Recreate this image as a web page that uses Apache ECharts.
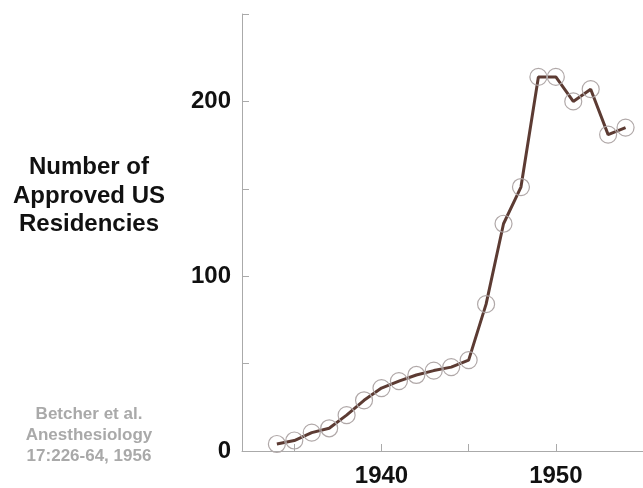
<!DOCTYPE html>
<html>
<head>
<meta charset="utf-8">
<script src="https://cdn.jsdelivr.net/npm/echarts@6/dist/echarts.min.js"></script>
<style>html,body{margin:0;padding:0;background:#fff;}#c{width:643px;height:488px;}</style>
</head>
<body>
<div id="c"></div>
<script>
var years = [1934,1935,1936,1937,1938,1939,1940,1941,1942,1943,1944,1945,1946,1947,1948,1949,1950,1951,1952,1953,1954];
var residencies = [4,6,10.5,13,20.5,29,36,40,43.5,46,48,52,84,130,151,214,214,200,207,181,185];
var xTickValues = [1935,1940,1945,1950,1955];
var xLabelValues = [1940,1950];
var yLabelValues = [0,100,200];
var titleLines = ['Number of','Approved US','Residencies'];
var citeLines = ['Betcher et al.','Anesthesiology','17:226-64, 1956'];

var chart = echarts.init(document.getElementById('c'));
var font = 'Arial, "Liberation Sans", sans-serif';
chart.setOption({
  animation: false,
  grid: {left: 242, top: 14, bottom: 36.5, right: -8, containLabel: false},
  xAxis: {
    type: 'value', min: 1932, max: 1955,
    splitLine: {show: false},
    axisLine: {lineStyle: {color: '#aaaaaa', width: 1}},
    axisTick: {inside: true, length: 7, lineStyle: {color: '#aaaaaa'}, customValues: xTickValues},
    axisLabel: {customValues: xLabelValues, formatter: function(v){ return String(v); }, color: '#111', fontSize: 24, fontWeight: 'bold', fontFamily: font, margin: 13}
  },
  yAxis: {
    type: 'value', min: 0, max: 250, interval: 50,
    splitLine: {show: false},
    axisLine: {show: true, lineStyle: {color: '#aaaaaa', width: 1}},
    axisTick: {show: true, inside: true, length: 7, lineStyle: {color: '#aaaaaa'}},
    axisLabel: {customValues: yLabelValues, formatter: function(v){ return String(v); }, color: '#111', fontSize: 24, fontWeight: 'bold', fontFamily: font, margin: 11}
  },
  graphic: [
    {type: 'text', x: 89, y: 196, style: {text: titleLines.join('\n'), fill: '#111', font: 'bold 24px ' + font, textAlign: 'center', textVerticalAlign: 'middle', lineHeight: 28.5}},
    {type: 'text', x: 89, y: 435, style: {text: citeLines.join('\n'), fill: '#a9a9a9', font: 'bold 17px ' + font, textAlign: 'center', textVerticalAlign: 'middle', lineHeight: 21}}
  ],
  series: [{
    type: 'line',
    data: years.map(function(y, i){ return [y, residencies[i]]; }),
    symbol: 'circle', symbolSize: 17, showAllSymbol: true,
    itemStyle: {color: 'rgba(0,0,0,0)', borderColor: '#b0a8a8', borderWidth: 1.2},
    lineStyle: {color: '#5c3b33', width: 3},
    clip: false
  }]
});
</script>
</body>
</html>
